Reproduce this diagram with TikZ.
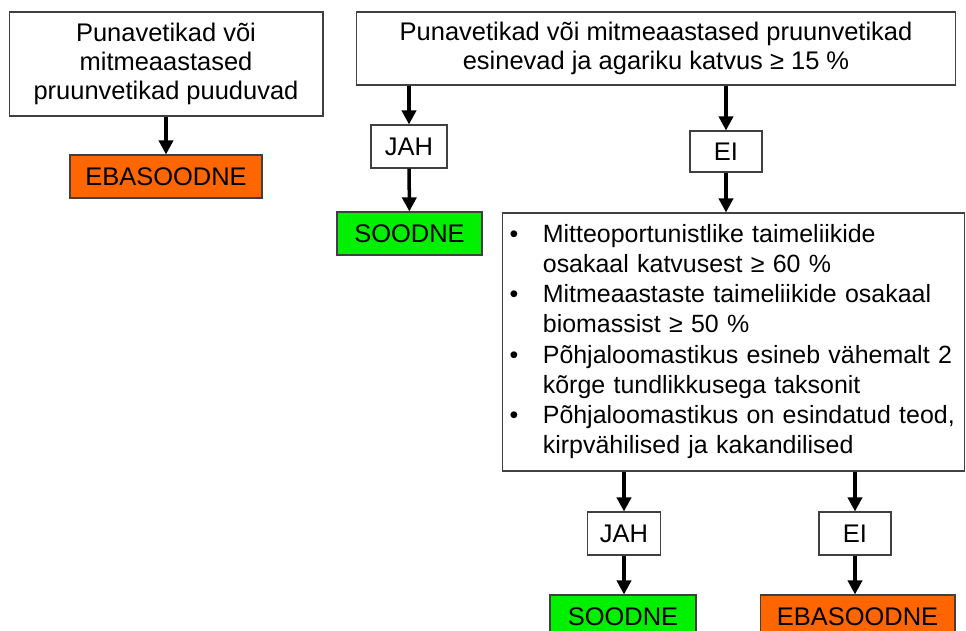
\documentclass[tikz,border=0pt]{standalone}
\usepackage{fontspec}
\setmainfont{Liberation Sans}
\usetikzlibrary{arrows.meta}
\definecolor{oranz}{RGB}{255,102,0}
\definecolor{roheline}{RGB}{0,240,0}
\tikzset{
  kast/.style={draw=black!75, line width=0.6pt, inner sep=0pt, align=center,
    minimum height=0.86cm, font=\fontsize{14.5}{16.7}\selectfont},
  soodne/.style={kast, fill=roheline},
  ebasoodne/.style={kast, fill=oranz},
  nool/.style={line width=2pt, -{Triangle[width=8pt,length=8pt]}}
}
\begin{document}
\begin{tikzpicture}[x=0.02cm,y=-0.02cm]
    \useasboundingbox (0,0) rectangle (966,631);

    % Vasak haru
    \node[kast, minimum width=6.28cm, minimum height=2.08cm] (puuduvad) at (166,64)
      {Punavetikad või\\mitmeaastased\\pruunvetikad puuduvad};
    \node[ebasoodne, minimum width=3.84cm] (eba1) at (166,176.5) {EBASOODNE};
    \draw[nool] (puuduvad) -- (eba1);

    % Parem haru, esimene küsimus
    \node[kast, minimum width=12cm, minimum height=1.46cm] (esinevad) at (656,48.5)
      {Punavetikad või mitmeaastased pruunvetikad\\esinevad ja agariku katvus ≥ 15 \%};
    \node[kast, minimum width=1.52cm] (jah1) at (409,146.5) {JAH};
    \node[kast, minimum width=1.44cm, minimum height=0.82cm] (ei1) at (726,151.5) {EI};
    \node[soodne, minimum width=2.9cm] (sood1) at (409.5,233.5) {SOODNE};
    \draw[nool] (esinevad.south -| jah1.north) -- (jah1.north);
    \draw[nool] (esinevad.south -| ei1.north) -- (ei1.north);
    \draw[nool] (jah1) -- (sood1);

    % Tingimuste kast
    \node[kast, minimum width=9.26cm, minimum height=5.16cm, text width=8.96cm, align=left,
      font=\fontsize{14.2}{17.1}\selectfont] (tingimused) at (733.5,342) {%
      \begin{tabular}{@{}l@{\hspace{14pt}}l@{}}
        • & Mitteoportunistlike taimeliikide\\
          & osakaal katvusest ≥ 60 \%\\
        • & Mitmeaastaste taimeliikide osakaal\\
          & biomassist ≥ 50 \%\\
        • & Põhjaloomastikus esineb vähemalt 2\\
          & kõrge tundlikkusega taksonit\\
        • & Põhjaloomastikus on esindatud teod,\\
          & kirpvähilised ja kakandilised
      \end{tabular}};
    \draw[nool] (ei1) -- (ei1 |- tingimused.north);

    % Viimane otsus
    \node[kast, minimum width=1.46cm] (jah2) at (624,533.5) {JAH};
    \node[kast, minimum width=1.44cm] (ei2) at (855,533.5) {EI};
    \node[soodne, minimum width=2.92cm] (sood2) at (623,616.5) {SOODNE};
    \node[ebasoodne, minimum width=3.9cm] (eba2) at (857.5,616.5) {EBASOODNE};
    \draw[nool] (tingimused.south -| jah2.north) -- (jah2.north);
    \draw[nool] (tingimused.south -| ei2.north) -- (ei2.north);
    \draw[nool] (jah2) -- (jah2 |- sood2.north);
    \draw[nool] (ei2) -- (ei2 |- eba2.north);
\end{tikzpicture}
\end{document}
